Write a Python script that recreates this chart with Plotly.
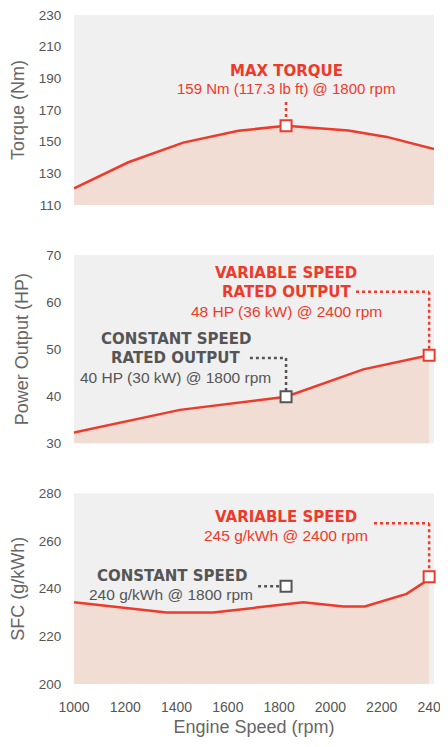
import plotly.graph_objects as go

# ---------------- data ----------------
torque_rpm = [1000, 1212, 1426, 1641, 1827, 2070, 2220, 2404]
torque_nm = [120.5, 137, 149.4, 156.9, 160, 157, 153, 145.4]

power_rpm = [1000, 1413, 1827, 2128, 2385]
power_hp = [32.3, 37.1, 39.9, 45.7, 48.7]

sfc_rpm = [1000, 1361, 1543, 1894, 2051, 2134, 2297, 2385]
sfc_gkwh = [234.3, 230, 230, 234.3, 232.5, 232.5, 237.8, 244]

max_torque_pt = (1827, 160)
power_const_pt = (1827, 39.9)
power_var_pt = (2385, 48.7)
sfc_const_pt = (1827, 241)
sfc_var_pt = (2385, 245)

x_ticks = [1000, 1200, 1400, 1600, 1800, 2000, 2200, 2400]
torque_ticks = [110, 130, 150, 170, 190, 210, 230]
power_ticks = [30, 40, 50, 60, 70]
sfc_ticks = [200, 220, 240, 260, 280]

RED = "#ee3a2b"
GREY = "#555555"
FILL = "#f1ddd3"
BG = "#f0f0f0"
SANS = "Liberation Sans, Arial, sans-serif"
BOLD = "DejaVu Sans, sans-serif"

fig = go.Figure()

def curve(x, y, xa, ya):
    fig.add_trace(go.Scatter(x=x, y=y, mode="lines", xaxis=xa, yaxis=ya,
                             line=dict(color=RED, width=2.5),
                             fill="tozeroy", fillcolor=FILL,
                             hoverinfo="skip", showlegend=False))

def marker(pt, xa, ya, color):
    fig.add_trace(go.Scatter(x=[pt[0]], y=[pt[1]], mode="markers", xaxis=xa, yaxis=ya,
                             marker=dict(symbol="square", size=11, color="white",
                                         line=dict(color=color, width=2)),
                             hoverinfo="skip", showlegend=False, cliponaxis=False))

curve(torque_rpm, torque_nm, "x", "y")
curve(power_rpm, power_hp, "x2", "y2")
curve(sfc_rpm, sfc_gkwh, "x3", "y3")

def dotline(xa, ya, x0, y0, x1, y1, color):
    fig.add_shape(type="line", xref=xa, yref=ya, x0=x0, y0=y0, x1=x1, y1=y1,
                  line=dict(color=color, width=2.5, dash="dot"), layer="above")

def label(xa, ya, x, y, text, color, bold=False, size=15):
    fig.add_annotation(xref=xa, yref=ya, x=x, y=y, text=text, showarrow=False,
                       xanchor="center", yanchor="middle",
                       font=dict(family=BOLD if bold else SANS, size=size,
                                 color=color, weight="bold" if bold else "normal"))

# Torque panel
dotline("x", "y", 1827, 175, 1827, 163, RED)
label("x", "y", 1827, 194.6, "MAX TORQUE", RED, bold=True)
label("x", "y", 1827, 183.3, "159 Nm (117.3 lb ft) @ 1800 rpm", RED, size=15)

# Power panel
dotline("x2", "y2", 2100, 62.2, 2385, 62.2, RED)
dotline("x2", "y2", 2385, 62.2, 2385, 49.9, RED)
label("x2", "y2", 1827, 66.2, "VARIABLE SPEED", RED, bold=True)
label("x2", "y2", 1829, 62.1, "RATED OUTPUT", RED, bold=True)
label("x2", "y2", 1827, 57.9, "48 HP (36 kW) @ 2400 rpm", RED, size=15.5)

dotline("x2", "y2", 1686, 48.1, 1827, 48.1, GREY)
dotline("x2", "y2", 1827, 48.1, 1827, 41.1, GREY)
label("x2", "y2", 1400, 52.2, "CONSTANT SPEED", GREY, bold=True)
label("x2", "y2", 1397, 48.1, "RATED OUTPUT", GREY, bold=True)
label("x2", "y2", 1397, 43.9, "40 HP (30 kW) @ 1800 rpm", GREY, size=15.5)

# SFC panel
dotline("x3", "y3", 2170, 267.4, 2385, 267.4, RED)
dotline("x3", "y3", 2385, 267.4, 2385, 247.3, RED)
label("x3", "y3", 1827, 270.2, "VARIABLE SPEED", RED, bold=True)
label("x3", "y3", 1827, 262.2, "245 g/kWh @ 2400 rpm", RED, size=15.5)

dotline("x3", "y3", 1718, 241, 1806, 241, GREY)
label("x3", "y3", 1383, 245.4, "CONSTANT SPEED", GREY, bold=True)
label("x3", "y3", 1378, 237.4, "240 g/kWh @ 1800 rpm", GREY, size=15.5)

marker(max_torque_pt, "x", "y", RED)
marker(power_const_pt, "x2", "y2", GREY)
marker(power_var_pt, "x2", "y2", RED)
marker(sfc_const_pt, "x3", "y3", GREY)
marker(sfc_var_pt, "x3", "y3", RED)

xcommon = dict(range=[1000, 2404], showgrid=False, zeroline=False, showline=False,
               tickvals=x_ticks, fixedrange=True, automargin=False,
               ticklabeloverflow="allow")
ycommon = dict(showgrid=False, zeroline=False, showline=False, automargin=False,
               ticklabeloverflow="allow",
               tickfont=dict(family=SANS, size=13.5, color=GREY),
               ticks="outside", ticklen=0, ticklabelstandoff=9,
               title_font=dict(family=SANS, size=18, color="#666666"),
               title_standoff=12)

# the page body adds an 8px offset; margins compensate for it
fig.update_layout(
    width=448, height=747,
    margin=dict(l=66, r=22, t=7, b=71),
    paper_bgcolor="white", plot_bgcolor=BG,
    xaxis=dict(**xcommon, anchor="y", showticklabels=False),
    xaxis2=dict(**xcommon, anchor="y2", showticklabels=False),
    xaxis3=dict(**xcommon, anchor="y3", showticklabels=True,
                tickfont=dict(family=SANS, size=14, color=GREY),
                ticks="outside", ticklen=0, ticklabelstandoff=10,
                title=dict(text="Engine Speed (rpm)",
                           font=dict(family=SANS, size=18, color="#666666"),
                           standoff=6)),
    yaxis=dict(**ycommon, domain=[0.716, 1.0], range=[110, 230], tickvals=torque_ticks,
               title_text="Torque (Nm)", anchor="x"),
    yaxis2=dict(**ycommon, domain=[0.3598, 0.6413], range=[30, 70], tickvals=power_ticks,
                title_text="Power Output (HP)", anchor="x2"),
    yaxis3=dict(**ycommon, domain=[0.0, 0.285], range=[200, 280], tickvals=sfc_ticks,
                title_text="SFC (g/kWh)", anchor="x3"),
)

fig.write_html("out.html")
